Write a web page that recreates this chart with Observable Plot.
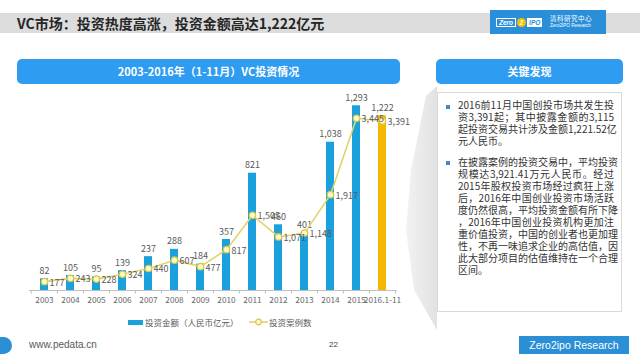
<!DOCTYPE html>
<html>
<head>
<meta charset="utf-8">
<script src="https://cdn.jsdelivr.net/npm/d3@7"></script>
<script src="https://cdn.jsdelivr.net/npm/@observablehq/plot@0.6"></script>
<style>
html,body{margin:0;padding:0;background:#fff;}
#page{position:relative;width:640px;height:360px;overflow:hidden;font-family:"Noto Sans CJK SC","Microsoft YaHei",sans-serif;color:#333;}
.abs{position:absolute;}
#titleband{left:0;top:13px;width:640px;height:20px;background:#dcdcdc;}
#title{left:17px;top:13px;height:20px;line-height:20px;font-size:14px;font-weight:bold;color:#262626;white-space:nowrap;}
#logo{left:490px;top:10px;width:116px;height:24px;background:#2a8fd8;}
#logo .mark{position:absolute;left:6px;top:8px;height:9px;display:flex;align-items:center;gap:1px;font-family:"Liberation Sans",Arial,sans-serif;font-size:6.5px;font-weight:bold;font-style:italic;}
#logo .mark .z{border:1px solid #fff;color:#fff;padding:0 2px;line-height:7px;}
#logo .mark .two{background:#f2c200;color:#fff;border-radius:50%;width:9px;height:9px;line-height:9px;text-align:center;}
#logo .mark .ipo{background:#fff;color:#2a8fd8;padding:0 2px;line-height:9px;}
#logo .cn{position:absolute;left:60px;top:4px;font-size:6.5px;color:#fff;line-height:8px;letter-spacing:0.5px;}
#logo .en{position:absolute;left:60px;top:13px;font-size:4.6px;color:#fff;line-height:6px;font-family:"Liberation Sans",Arial,sans-serif;}
.hdr{height:25px;line-height:25px;background:#2e9cf0;border-radius:5px;color:#fff;font-size:11px;font-weight:bold;text-align:center;}
#chartHdr{left:17px;top:59px;width:383px;}
#findHdr{left:436px;top:59px;width:187px;}
#shadow{left:0;top:0;}
#panel{left:437px;top:92px;width:185px;height:220px;border:1px solid #d9d9d9;background:#fff;box-sizing:border-box;}
.para{position:absolute;left:20px;width:156px;font-size:10px;line-height:12px;color:#333;}
.para .ln{white-space:nowrap;text-align:justify;text-align-last:justify;height:12px;}
.para .ln.last{text-align-last:left;}
.bullet{position:absolute;left:8px;width:4px;height:4px;background:#4a86c5;}
#chart{left:0;top:80px;}
.legtext{font-size:8.5px;line-height:12px;color:#595959;white-space:nowrap;}
#footD{left:0;top:337px;width:12px;height:17px;background:#2b8fd6;border-radius:0 9px 9px 0;}
#url{left:29px;top:338px;font-family:"Liberation Sans",Arial,sans-serif;font-size:10px;line-height:14px;color:#595959;}
#pageno{left:329px;top:339px;font-family:"Liberation Sans",Arial,sans-serif;font-size:8px;line-height:12px;color:#404040;}
#brand{left:519px;top:336px;width:110px;height:18px;line-height:18px;background:#2b8fd6;color:#fff;font-family:"Liberation Sans",Arial,sans-serif;font-size:10.5px;text-align:center;}
</style>
</head>
<body>
<div id="page">
  <div id="titleband" class="abs"></div>
  <div id="title" class="abs">VC市场：投资热度高涨，投资金额高达1,222亿元</div>
  <div id="logo" class="abs">
    <div class="mark"><span class="z">Zero</span><span class="two">2</span><span class="ipo">IPO</span></div>
    <div class="cn">清科研究中心</div>
    <div class="en">Zero2IPO Research</div>
  </div>
  <div id="chartHdr" class="abs hdr">2003-2016年（1-11月）VC投资情况</div>
  <div id="findHdr" class="abs hdr">关键发现</div>
  <svg id="shadow" class="abs" width="640" height="360">
    <defs>
      <linearGradient id="sg" x1="0" x2="1" y1="0" y2="0">
        <stop offset="0" stop-color="#f2f2f2"/>
        <stop offset="1" stop-color="#e2e2e2"/>
      </linearGradient>
    </defs>
    <polygon points="437,86 426,96 411,170 406,230 414,290 437,330" fill="url(#sg)"/>
  </svg>
  <div id="panel" class="abs">
    <div class="bullet" style="top:12px"></div>
    <div class="para" style="top:6px">
      <div class="ln">2016前11月中国创投市场共发生投</div>
      <div class="ln">资3,391起；其中披露金额的3,115</div>
      <div class="ln">起投资交易共计涉及金额1,221.52亿</div>
      <div class="ln last">元人民币。</div>
    </div>
    <div class="bullet" style="top:68px"></div>
    <div class="para" style="top:63px">
      <div class="ln">在披露案例的投资交易中，平均投资</div>
      <div class="ln">规模达3,921.41万元人民币。经过</div>
      <div class="ln">2015年股权投资市场经过疯狂上涨</div>
      <div class="ln">后，2016年中国创业投资市场活跃</div>
      <div class="ln">度仍然很高，平均投资金额有所下降</div>
      <div class="ln">，2016年中国创业投资机构更加注</div>
      <div class="ln">重价值投资，中国的创业者也更加理</div>
      <div class="ln">性，不再一味追求企业的高估值，因</div>
      <div class="ln">此大部分项目的估值维持在一个合理</div>
      <div class="ln last">区间。</div>
    </div>
  </div>
  <div id="chart" class="abs"></div>
  <div id="legend"></div>
  <div id="footD" class="abs"></div>
  <div id="url" class="abs">www.pedata.cn</div>
  <div id="pageno" class="abs">22</div>
  <div id="brand" class="abs">Zero2ipo Research</div>
</div>
<script>
// ---- data ----
const categories = ["2003","2004","2005","2006","2007","2008","2009","2010","2011","2012","2013","2014","2015","2016.1-11"];
const investmentAmount = [82,105,95,139,237,288,184,357,821,460,401,1038,1293,1222]; // 亿元
const investmentCases = [177,243,228,324,440,607,477,817,1505,1071,1148,1917,3445,3391];
const seriesNames = ["投资金额（人民币亿元）","投资案例数"];
const amountAxisMax = 1400;   // primary axis
const casesAxisMax = 4000;    // secondary axis

// ---- layout / style ----
const blue = "#1aa0dc", gold = "#f5b800", lineColor = "#e2d36a", dotFill = "#fdf9c4", dotStroke = "#d9c84e", txt = "#595959";
const W = 420, H = 232, mL = 29, mR = 23, mT = 10, mB = 22;
const step = (W - mL - mR) / categories.length;
const fmt = d3.format(",");
const last = categories[categories.length - 1];
const rows = categories.map((c, i) => ({year: c, amount: investmentAmount[i], cases: investmentCases[i]}));
const toPrimary = v => v * amountAxisMax / casesAxisMax;

const chart = Plot.plot({
  width: W, height: H,
  marginLeft: mL, marginRight: mR, marginTop: mT, marginBottom: mB,
  style: {fontFamily: '"Noto Sans CJK SC", sans-serif', fontSize: "9px", color: txt, background: "transparent", overflow: "visible"},
  x: {type: "band", domain: categories, paddingInner: 0.7, paddingOuter: 0.35, align: 0.5, axis: null},
  y: {domain: [0, amountAxisMax], axis: null},
  marks: [
    Plot.axisX({tickSize: 0, tickPadding: 7, fontSize: 8.3, fill: "#6a6a6a", label: null}),
    Plot.ruleY([0], {stroke: "#bfbfbf"}),
    Plot.ruleX(categories, {x: d => d, y1: 0, y2: -25, dx: -step / 2, stroke: "#bfbfbf"}),
    Plot.ruleX([last], {x: d => d, y1: 0, y2: -25, dx: step / 2, stroke: "#bfbfbf"}),
    Plot.barY(rows.filter(d => d.year !== last), {x: "year", y: "amount", fill: blue}),
    Plot.barY(rows.filter(d => d.year === last), {x: "year", y: "amount", fill: gold}),
    Plot.text(rows, {x: "year", y: "amount", text: d => fmt(d.amount), lineAnchor: "bottom", dy: -5, fill: txt}),
    Plot.line(rows, {x: "year", y: d => toPrimary(d.cases), stroke: lineColor, strokeWidth: 1.6}),
    Plot.dot(rows, {x: "year", y: d => toPrimary(d.cases), r: 3.2, fill: dotFill, stroke: dotStroke, strokeWidth: 1.3}),
    Plot.text(rows, {x: "year", y: d => toPrimary(d.cases), text: d => fmt(d.cases), textAnchor: "start", dx: 5, dy: 1, fill: txt})
  ]
});
document.getElementById("chart").appendChild(chart);

// ---- legend ----
const legend = document.getElementById("legend");
legend.innerHTML = `
  <div class="abs" style="left:128px;top:320px;width:15px;height:5px;background:${blue}"></div>
  <div class="abs legtext" style="left:145px;top:316px">${seriesNames[0]}</div>
  <svg class="abs" style="left:249px;top:317px" width="19" height="10">
    <line x1="0" x2="19" y1="5" y2="5" stroke="${lineColor}" stroke-width="1.6"/>
    <circle cx="9.5" cy="5" r="2.8" fill="${dotFill}" stroke="${dotStroke}" stroke-width="1.2"/>
  </svg>
  <div class="abs legtext" style="left:269px;top:316px">${seriesNames[1]}</div>`;
</script>
</body>
</html>
